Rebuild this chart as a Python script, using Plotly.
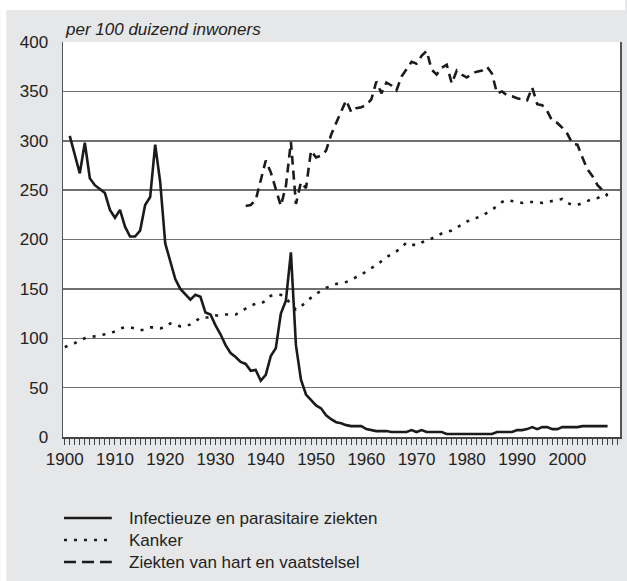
import plotly.graph_objects as go

# ---- data (per 100 duizend inwoners) ----
infect_years = list(range(1901, 2009))
infect_values = [
    305, 286, 267, 298, 262, 255, 251, 247, 230, 222,   # 1901-1910
    230, 213, 203, 203, 209, 235, 243, 296, 258, 196,   # 1911-1920
    178, 160, 150, 145, 139, 144, 142, 126, 124, 113,   # 1921-1930
    104, 93, 85, 81, 76, 74, 67, 68, 57, 63,            # 1931-1940
    82, 90, 125, 138, 187, 93, 58, 43, 37, 32,          # 1941-1950
    29, 22, 18, 15, 14, 12, 11, 11, 11, 8,              # 1951-1960
    7, 6, 6, 6, 5, 5, 5, 5, 7, 5,                       # 1961-1970
    7, 5, 5, 5, 5, 3, 3, 3, 3, 3,                       # 1971-1980
    3, 3, 3, 3, 3, 5, 5, 5, 5, 7,                       # 1981-1990
    7, 8, 10, 8, 10, 10, 8, 8, 10, 10,                  # 1991-2000
    10, 10, 11, 11, 11, 11, 11, 11,                     # 2001-2008
]

kanker_years = list(range(1900, 2009))
kanker_values = [
    91,                                                  # 1900
    93, 95, 98, 100, 101, 102, 103, 104, 105, 107,      # 1901-1910
    110, 111, 111, 110, 108, 109, 111, 111, 110, 111,   # 1911-1920
    115, 114, 112, 112, 114, 117, 121, 121, 121, 123,   # 1921-1930
    123, 124, 124, 124, 127, 130, 133, 135, 135, 138,   # 1931-1940
    143, 144, 144, 141, 134, 129, 132, 137, 141, 145,   # 1941-1950
    148, 151, 153, 155, 156, 157, 159, 162, 164, 168,   # 1951-1960
    171, 174, 178, 182, 185, 188, 192, 197, 195, 194,   # 1961-1970
    197, 199, 201, 204, 206, 208, 209, 212, 215, 218,   # 1971-1980
    221, 222, 224, 227, 230, 234, 238, 240, 239, 238,   # 1981-1990
    237, 238, 238, 238, 237, 238, 239, 240, 241, 237,   # 1991-2000
    235, 235, 237, 239, 241, 242, 244, 246,             # 2001-2008
]

hart_years = list(range(1936, 2009))
hart_values = [
    234, 235, 240, 260, 280,                            # 1936-1940
    268, 250, 234, 254, 299, 236, 258, 252, 290, 283,   # 1941-1950
    285, 290, 306, 318, 330, 341, 329, 333, 334, 336,   # 1951-1960
    342, 360, 348, 359, 356, 351, 365, 372, 380, 378,   # 1961-1970
    386, 391, 372, 367, 374, 377, 358, 371, 367, 364,   # 1971-1980
    368, 370, 371, 375, 368, 348, 350, 346, 345, 343,   # 1981-1990
    342, 341, 354, 337, 336, 330, 320, 318, 313, 307,   # 1991-2000
    297, 296, 283, 271, 264, 255, 250, 244,             # 2001-2008
]

series_names = [
    "Infectieuze en parasitaire ziekten",
    "Kanker",
    "Ziekten van hart en vaatstelsel",
]
y_title = "per 100 duizend inwoners"

# ---- styling ----
W, H = 627, 581
ML, MR, MT, MB = 63, 5, 42, 144
PW, PH = W - ML - MR, H - MT - MB

ink = "#1b1b1b"
grid = "#6f6f6f"
panel = "#e6e7e8"
txt = "#222222"
font_family = "Liberation Sans, Arial, Helvetica, sans-serif"
dashes = [None, "3px,7px", "9px,6px"]
legend_dashes = [None, "3px,7px", "12px,6px"]


def px_x(p):
    return (p - ML) / PW


def px_y(p):
    return 1 - (p - MT) / PH


fig = go.Figure()
for xs, ys, name, dash in zip(
    [infect_years, kanker_years, hart_years],
    [infect_values, kanker_values, hart_values],
    series_names, dashes,
):
    line = dict(color=ink, width=2.6)
    if dash:
        line["dash"] = dash
    fig.add_trace(go.Scatter(x=xs, y=ys, mode="lines", name=name,
                             line=line, showlegend=False))

shapes = [
    # white strip above the grey panel
    dict(type="rect", xref="paper", yref="paper",
         x0=px_x(0), x1=px_x(W), y0=px_y(10), y1=px_y(0),
         fillcolor="white", line=dict(width=0), layer="below"),
    # white strip left of the grey panel
    dict(type="rect", xref="paper", yref="paper",
         x0=px_x(0), x1=px_x(6), y0=px_y(H), y1=px_y(0),
         fillcolor="white", line=dict(width=0), layer="below"),
]
annotations = [
    dict(text=f"<i>{y_title}</i>", xref="paper", yref="paper",
         x=0, y=1, xanchor="left", yanchor="bottom", yshift=1,
         showarrow=False, font=dict(size=17, color=txt)),
]

# hand-drawn legend below the plot
leg_rows = [518, 540, 562]
for name, dash, ypix in zip(series_names, legend_dashes, leg_rows):
    ln = dict(color=ink, width=2.6)
    if dash:
        ln["dash"] = dash
    shapes.append(dict(type="line", xref="paper", yref="paper",
                       x0=px_x(64), x1=px_x(112), y0=px_y(ypix), y1=px_y(ypix),
                       line=ln))
    annotations.append(dict(text=name, xref="paper", yref="paper",
                            x=px_x(127), y=px_y(ypix), xanchor="left",
                            yanchor="middle", showarrow=False,
                            font=dict(size=17, color=txt)))

fig.update_layout(
    width=W, height=H,
    margin=dict(l=ML, r=MR, t=MT, b=MB, pad=0),
    paper_bgcolor=panel,
    plot_bgcolor="white",
    font=dict(family=font_family, size=17, color=txt),
    showlegend=False,
    xaxis=dict(
        range=[1899.66, 2010.47],
        tickmode="linear", tick0=1900, dtick=10,
        ticks="outside", ticklen=6, tickwidth=1, tickcolor="#444444",
        minor=dict(tickmode="linear", tick0=1900, dtick=1, ticks="outside",
                   ticklen=6, tickwidth=1, tickcolor="#444444", showgrid=False),
        showgrid=False, zeroline=False,
        showline=True, linecolor="#444444", linewidth=1.5, mirror=False,
        tickfont=dict(size=17, color=txt),
        fixedrange=True,
    ),
    yaxis=dict(
        range=[0, 400],
        tickmode="linear", tick0=0, dtick=50,
        ticks="", ticklabelstandoff=10,
        showgrid=True, gridcolor=grid, gridwidth=1.5,
        zeroline=False,
        showline=True, linecolor="#555555", linewidth=1.5, mirror=True,
        tickfont=dict(size=17, color=txt),
        fixedrange=True,
    ),
    shapes=shapes,
    annotations=annotations,
)

fig.write_html(
    "out.html",
    config={"displayModeBar": False, "staticPlot": True},
    post_script="document.body.style.margin='0';document.body.style.overflow='hidden';",
)
